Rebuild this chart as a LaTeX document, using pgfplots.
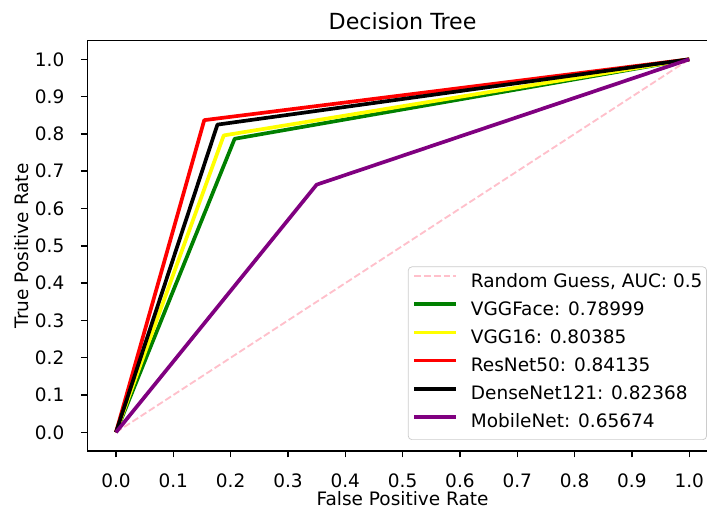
\documentclass[border=0pt]{standalone}
\usepackage{fontspec}
\setmainfont{DejaVu Sans}
\usepackage{pgfplots}
\pgfplotsset{compat=1.18}
\definecolor{mplgreen}{HTML}{008000}
\definecolor{mplyellow}{HTML}{FFFF00}
\definecolor{mplred}{HTML}{FF0000}
\definecolor{mplpurple}{HTML}{800080}
\definecolor{mplpink}{HTML}{FFC0CB}
\begin{document}
\begin{tikzpicture}
\begin{axis}[
  name=ax,
  at={(0,0)}, anchor=south west,
  scale only axis,
  width=340.9pt, height=221.8pt,
  xmin=-0.05, xmax=1.05, ymin=-0.05, ymax=1.05,
  xtick={0,0.1,0.2,0.3,0.4,0.5,0.6,0.7,0.8,0.9,1.0},
  ytick={0,0.1,0.2,0.3,0.4,0.5,0.6,0.7,0.8,0.9,1.0},
  tick align=outside,
  tick pos=left,
  major tick length=3.5pt,
  every tick/.style={black, line width=0.8pt},
  axis line style={black, line width=0.8pt},
  tick label style={font=\fontsize{10}{12}\selectfont},
  /pgf/number format/.cd, fixed, fixed zerofill, precision=1, assume math mode=true,
  /pgfplots/.cd,
  xticklabel style={anchor=north, inner sep=0pt, yshift=-8.6pt},
  yticklabel style={anchor=east, inner sep=0pt, xshift=-8.7pt},
  title={Decision Tree},
  title style={at={(axis description cs:0.5,1.028)}, anchor=base, yshift=-6pt, inner sep=0pt, font=\fontsize{12}{14}\selectfont},
  xlabel={False Positive Rate},
  xlabel style={at={(axis description cs:0.5,-0.1335)}, anchor=base, inner sep=0pt, font=\fontsize{10}{12}\selectfont},
  ylabel={True Positive Rate},
  ylabel style={at={(axis description cs:-0.0939,0.5)}, anchor=base, inner sep=0pt, font=\fontsize{10}{12}\selectfont},
  legend style={at={(axis description cs:0.9826,0.0268)}, anchor=south east,
    draw=black!20, rounded corners=2pt, fill=white, fill opacity=0.8, text opacity=1,
    font=\fontsize{10}{12}\selectfont,
    inner xsep=2.2pt, inner ysep=3.8pt, row sep=5.4pt,
    nodes={inner sep=0pt, text height=7.3pt, text depth=2.5pt},
    /tikz/every odd column/.append style={column sep=7.2pt}},
  legend cell align=left,
  legend image code/.code={\draw[#1] (0pt,3.65pt) -- (22.5pt,3.65pt);},
  every axis plot/.append style={line join=round},
]
\addplot[mplpink, line width=1pt, dash pattern=on 3.7pt off 1.6pt] coordinates {(0,0) (1,1)};
\addlegendentry{Random Guess, AUC: 0.5}
\addplot[mplgreen, line width=2pt] coordinates {(0,0) (0.207,0.787) (1,1)};
\addlegendentry{VGGFace: 0.78999}
\addplot[mplyellow, line width=2pt] coordinates {(0,0) (0.188,0.796) (1,1)};
\addlegendentry{VGG16: 0.80385}
\addplot[mplred, line width=2pt] coordinates {(0,0) (0.154,0.837) (1,1)};
\addlegendentry{ResNet50: 0.84135}
\addplot[black, line width=2pt] coordinates {(0,0) (0.177,0.825) (1,1)};
\addlegendentry{DenseNet121: 0.82368}
\addplot[mplpurple, line width=2pt] coordinates {(0,0) (0.350,0.664) (1,1)};
\addlegendentry{MobileNet: 0.65674}
\end{axis}
\pgfresetboundingbox
\useasboundingbox ([shift={(-47.2pt,-31.35pt)}]ax.south west) rectangle ([shift={(335pt,22pt)}]ax.north west);
\end{tikzpicture}
\end{document}
